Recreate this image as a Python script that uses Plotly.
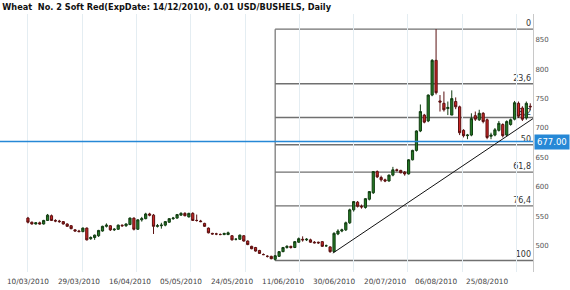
import plotly.graph_objects as go

# ---------------- data ----------------
title_text = "Wheat\u00a0 No. 2 Soft Red(ExpDate: 14/12/2010), 0.01 USD/BUSHELS, Daily"

tick_idx = [0, 13, 26, 39, 52, 65, 78, 91, 104, 117]
tick_labels = ["10/03/2010", "29/03/2010", "16/04/2010", "05/05/2010", "24/05/2010",
               "11/06/2010", "30/06/2010", "20/07/2010", "06/08/2010", "25/08/2010"]

open_ = [547, 540, 537, 539, 537, 543, 551, 543, 542, 541,
         537, 534, 527, 525, 524, 530, 512, 514, 517, 525,
         533, 534, 527, 528, 535, 534, 536, 547, 528, 544,
         546, 554, 552, 533, 534, 535, 540, 546, 547, 552,
         555, 549, 555, 543, 542, 538, 530, 521, 520, 519,
         519, 519, 517, 511, 511, 517, 508, 499, 497, 492,
         485, 482, 482, 477, 482, 490, 497, 499, 497, 506,
         511, 510, 510, 506, 506, 507, 500, 498, 490, 520,
         525, 527, 539, 561, 574, 567, 565, 579, 590, 626,
         616, 612, 610, 620, 629, 628, 625, 622, 646, 662,
         695, 722, 712, 756, 815, 746, 742, 733, 722, 745,
         736, 696, 687, 688, 721, 714, 725, 714, 686, 688,
         696, 706, 688, 706, 715, 742, 734, 717, 737]
high = [549, 541, 540, 541, 544, 554, 553, 545, 544, 542,
        538, 535, 528, 527, 531, 531, 516, 519, 527, 534,
        538, 535, 530, 536, 536, 538, 548, 548, 545, 549,
        556, 556, 554, 537, 539, 542, 547, 549, 554, 557,
        557, 556, 557, 553, 544, 539, 531, 522, 522, 521,
        522, 524, 518, 513, 519, 518, 509, 500, 498, 493,
        487, 484, 483, 484, 491, 498, 501, 500, 508, 514,
        516, 513, 512, 508, 507, 508, 502, 499, 523, 528,
        529, 541, 563, 576, 576, 570, 581, 593, 627, 628,
        619, 614, 621, 634, 631, 629, 627, 647, 663, 696,
        740, 724, 757, 817, 868, 756, 762, 745, 764, 752,
        738, 698, 690, 725, 728, 731, 727, 716, 692, 700,
        712, 708, 713, 716, 746, 745, 737, 745, 742]
low = [538, 536, 536, 536, 536, 542, 542, 540, 539, 536,
       532, 528, 524, 523, 523, 509, 510, 510, 515, 524,
       531, 525, 525, 527, 532, 532, 535, 526, 527, 541,
       545, 550, 520, 531, 529, 533, 539, 544, 546, 551,
       550, 548, 542, 541, 540, 532, 521, 519, 518, 518,
       518, 518, 509, 509, 510, 507, 501, 494, 490, 486,
       484, 480, 477, 475, 481, 489, 495, 495, 496, 505,
       507, 508, 505, 504, 503, 498, 498, 488, 489, 518,
       523, 525, 537, 558, 565, 563, 563, 577, 588, 615,
       609, 608, 609, 618, 626, 623, 619, 621, 645, 660,
       693, 708, 710, 754, 757, 728, 728, 722, 722, 732,
       688, 684, 681, 686, 712, 712, 708, 681, 681, 686,
       694, 684, 686, 704, 713, 717, 712, 714, 730]
close = [540, 537, 539, 537, 543, 552, 543, 542, 541, 537,
         533, 529, 525, 524, 530, 510, 514, 518, 526, 533,
         535, 527, 528, 535, 534, 537, 547, 528, 544, 546,
         554, 552, 533, 534, 535, 541, 546, 547, 553, 555,
         551, 555, 543, 543, 541, 533, 522, 520, 520, 519,
         521, 522, 510, 511, 518, 508, 502, 495, 491, 487,
         485, 482, 478, 483, 490, 497, 499, 497, 507, 512,
         510, 511, 506, 505, 505, 499, 500, 490, 521, 525,
         527, 539, 561, 575, 567, 566, 580, 592, 626, 617,
         612, 610, 620, 629, 628, 624, 622, 646, 662, 695,
         728, 710, 756, 815, 760, 744, 731, 735, 750, 736,
         692, 687, 688, 716, 715, 725, 711, 684, 688, 697,
         708, 687, 711, 714, 743, 720, 715, 742, 736]

fib_ratios = [0, 23.6, 38.2, 50, 61.8, 76.4, 100]
fib_labels = ["0", "23,6", "38,2", "50", "61,8", "76,4", "100"]

last_price = 677.00
trend_start = (77.7, 487.5)
trend_end = (128.7, 716.0)

# ---------------- figure ----------------
x = list(range(len(close)))
X_MIN, X_MAX = -7.12, 128.7
Y_MIN, Y_MAX = 455.4, 893.7

fig = go.Figure()
fig.add_trace(go.Candlestick(
    x=x, open=open_, high=high, low=low, close=close,
    increasing=dict(line=dict(color="#123d12", width=1), fillcolor="#247a24"),
    decreasing=dict(line=dict(color="#5a1010", width=1), fillcolor="#cc2525"),
    whiskerwidth=0, showlegend=False, hoverinfo="skip",
))

fib_low = min(low)
fib_high = max(high)
fib_x0 = low.index(fib_low)
shapes = []
for r, lab in zip(fib_ratios, fib_labels):
    lvl = fib_high - r / 100.0 * (fib_high - fib_low)
    shapes.append(dict(
        type="line", xref="x", yref="y", x0=fib_x0, x1=X_MAX, y0=lvl, y1=lvl,
        line=dict(color="#707070", width=1.4), layer="below",
        label=dict(text=lab, textposition="end", xanchor="right", yanchor="bottom",
                   textangle=0, padding=2,
                   font=dict(family="DejaVu Sans", size=8, color="#333333")),
    ))
shapes.append(dict(type="line", xref="x", yref="y", x0=fib_x0, x1=fib_x0,
                   y0=fib_low, y1=fib_high, line=dict(color="#707070", width=1.2),
                   layer="below"))
shapes.append(dict(type="line", xref="paper", yref="y", x0=0, x1=1,
                   y0=last_price, y1=last_price,
                   line=dict(color="#2688d6", width=1.5), layer="above"))
shapes.append(dict(type="line", xref="x", yref="y",
                   x0=trend_start[0], y0=trend_start[1], x1=trend_end[0], y1=trend_end[1],
                   line=dict(color="#111111", width=1), layer="above"))

fig.update_layout(
    width=570, height=290, autosize=False,
    margin=dict(l=0, r=37, t=14, b=18),
    paper_bgcolor="white", plot_bgcolor="white",
    boxgap=0.2,
    shapes=shapes,
    title=dict(text="<b>" + title_text + "</b>", xref="container", yref="container",
               x=0.004, xanchor="left", y=0.975, yanchor="middle",
               font=dict(family="DejaVu Sans", size=8.2, color="#111111")),
    xaxis=dict(range=[X_MIN, X_MAX], rangeslider=dict(visible=False),
               tickmode="array", tickvals=tick_idx, ticktext=tick_labels,
               showgrid=False, zeroline=False, showline=False, ticks="",
               ticklabelstandoff=4,
               tickfont=dict(family="DejaVu Sans", size=7.3, color="#444444"),
               minor=dict(tickmode="linear", tick0=0.01, dtick=13.83, showgrid=True,
                          gridcolor="#e4edf2", gridwidth=1, ticks="")),
    yaxis=dict(range=[Y_MIN, Y_MAX], side="right", tickmode="array",
               tickvals=[500, 550, 600, 650, 700, 750, 800, 850],
               showgrid=False, zeroline=False, showline=True, linecolor="#c8c8c8",
               linewidth=1, ticks="",
               tickfont=dict(family="DejaVu Sans", size=7, color="#555555")),
    annotations=[dict(xref="paper", yref="y", x=1, y=last_price, xanchor="left",
                      yanchor="middle", xshift=1, text=f"{last_price:.2f}",
                      showarrow=False, bgcolor="#2688d6", borderpad=2,
                      font=dict(family="DejaVu Sans", size=8.5, color="white"))],
)

fig.write_html("out.html")
